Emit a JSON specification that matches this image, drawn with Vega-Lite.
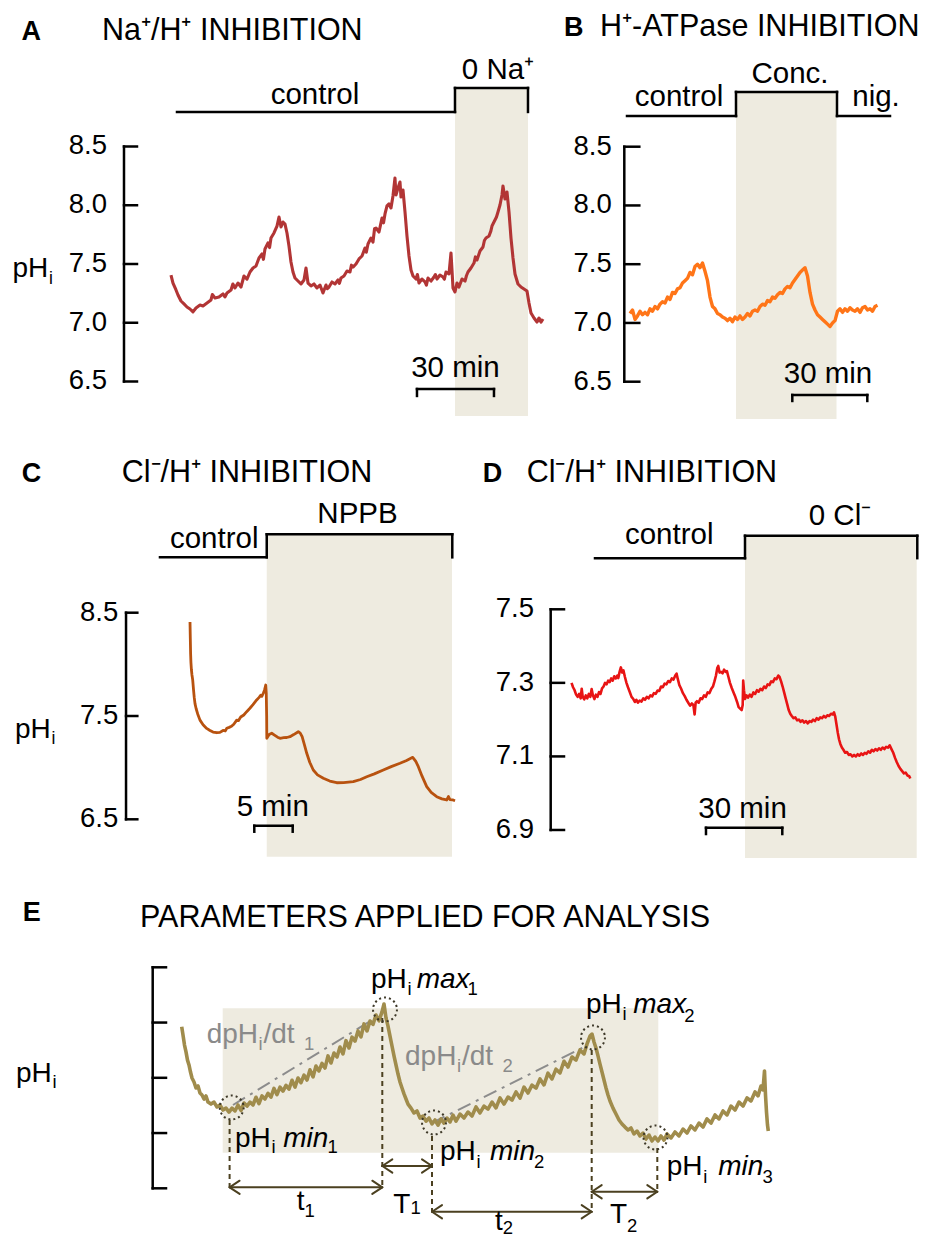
{
"$schema": "https://vega.github.io/schema/vega-lite/v6.json",
"width": 927, "height": 1240,
"autosize": "none",
"padding": 0,
"background": "white",
"config": {"view": {"stroke": null}, "font": "Liberation Sans"},
"resolve": {"scale": {"x": "independent", "y": "independent"}},
"layer": [
{
"encoding": {
 "x": {"field": "t", "type": "quantitative", "scale": {"domain": [-66.23, 294.94], "nice": false, "zero": false}, "axis": null},
 "y": {"field": "pH", "type": "quantitative", "scale": {"domain": [-0.8064, 9.7468], "nice": false, "zero": false}, "axis": null}
},
"layer": [
 {"data": {"values": [{"t": 111.04, "t2": 139.48, "pH": 6.206, "pH2": 8.998}]}, "mark": {"type": "rect", "color": "#eeebe0"}, "encoding": {"x2": {"field": "t2"}, "y2": {"field": "pH2"}}},
 {"data": {"values": [
{"t":0.39,"pH":7.406},{"t":1.17,"pH":7.338},{"t":2.34,"pH":7.279},{"t":3.12,"pH":7.236},{"t":4.29,"pH":7.185},{"t":5.45,"pH":7.16},{"t":6.62,"pH":7.134},{"t":7.79,"pH":7.117},{"t":8.96,"pH":7.092},{"t":10.13,"pH":7.126},{"t":11.69,"pH":7.151},{"t":12.86,"pH":7.143},{"t":14.42,"pH":7.168},{"t":15.97,"pH":7.194},{"t":16.5,"pH":7.24},{"t":17.53,"pH":7.211},{"t":19.09,"pH":7.219},{"t":20.65,"pH":7.245},{"t":21.4,"pH":7.22},{"t":22.21,"pH":7.253},{"t":23.77,"pH":7.279},{"t":24.5,"pH":7.33},{"t":25.32,"pH":7.296},{"t":26.49,"pH":7.338},{"t":27.66,"pH":7.304},{"t":28.83,"pH":7.398},{"t":30.0,"pH":7.372},{"t":31.17,"pH":7.432},{"t":32.34,"pH":7.466},{"t":33.51,"pH":7.483},{"t":34.68,"pH":7.551},{"t":35.84,"pH":7.585},{"t":36.4,"pH":7.54},{"t":37.01,"pH":7.628},{"t":38.18,"pH":7.679},{"t":38.8,"pH":7.64},{"t":39.35,"pH":7.721},{"t":40.52,"pH":7.764},{"t":41.69,"pH":7.823},{"t":42.47,"pH":7.9},{"t":43.25,"pH":7.815},{"t":44.03,"pH":7.857},{"t":44.81,"pH":7.84},{"t":45.58,"pH":7.764},{"t":46.36,"pH":7.653},{"t":47.14,"pH":7.517},{"t":47.92,"pH":7.432},{"t":48.7,"pH":7.381},{"t":49.87,"pH":7.355},{"t":51.04,"pH":7.33},{"t":52.21,"pH":7.364},{"t":52.99,"pH":7.466},{"t":53.77,"pH":7.338},{"t":54.94,"pH":7.313},{"t":56.1,"pH":7.33},{"t":57.27,"pH":7.296},{"t":58.44,"pH":7.321},{"t":59.61,"pH":7.253},{"t":60.78,"pH":7.321},{"t":61.3,"pH":7.29},{"t":61.95,"pH":7.304},{"t":63.12,"pH":7.347},{"t":64.29,"pH":7.33},{"t":65.45,"pH":7.364},{"t":66.0,"pH":7.335},{"t":66.62,"pH":7.381},{"t":67.79,"pH":7.398},{"t":68.96,"pH":7.44},{"t":70.13,"pH":7.432},{"t":70.7,"pH":7.49},{"t":71.3,"pH":7.474},{"t":72.47,"pH":7.5},{"t":73.64,"pH":7.543},{"t":74.81,"pH":7.568},{"t":75.97,"pH":7.636},{"t":76.5,"pH":7.6},{"t":77.14,"pH":7.67},{"t":78.31,"pH":7.721},{"t":79.09,"pH":7.687},{"t":79.7,"pH":7.8},{"t":80.26,"pH":7.806},{"t":81.43,"pH":7.772},{"t":82.6,"pH":7.891},{"t":83.2,"pH":7.85},{"t":83.77,"pH":7.926},{"t":84.55,"pH":7.994},{"t":85.32,"pH":8.011},{"t":86.1,"pH":7.977},{"t":86.88,"pH":8.079},{"t":87.66,"pH":8.232},{"t":88.05,"pH":8.087},{"t":88.83,"pH":8.147},{"t":89.61,"pH":8.198},{"t":90.0,"pH":8.07},{"t":90.78,"pH":8.13},{"t":91.56,"pH":7.943},{"t":92.34,"pH":7.738},{"t":93.12,"pH":7.568},{"t":93.9,"pH":7.449},{"t":94.68,"pH":7.398},{"t":95.84,"pH":7.372},{"t":96.4,"pH":7.41},{"t":97.01,"pH":7.338},{"t":98.18,"pH":7.372},{"t":99.35,"pH":7.347},{"t":99.9,"pH":7.32},{"t":100.52,"pH":7.381},{"t":101.69,"pH":7.355},{"t":102.86,"pH":7.389},{"t":103.4,"pH":7.41},{"t":104.03,"pH":7.372},{"t":105.19,"pH":7.406},{"t":106.36,"pH":7.389},{"t":106.9,"pH":7.37},{"t":107.53,"pH":7.432},{"t":108.7,"pH":7.415},{"t":109.48,"pH":7.594},{"t":109.87,"pH":7.449},{"t":110.26,"pH":7.296},{"t":111.04,"pH":7.262},{"t":111.82,"pH":7.338},{"t":112.6,"pH":7.304},{"t":113.77,"pH":7.372},{"t":114.94,"pH":7.355},{"t":115.5,"pH":7.4},{"t":116.1,"pH":7.432},{"t":117.27,"pH":7.466},{"t":118.44,"pH":7.508},{"t":119.0,"pH":7.56},{"t":119.61,"pH":7.534},{"t":120.78,"pH":7.611},{"t":121.95,"pH":7.645},{"t":122.5,"pH":7.7},{"t":123.12,"pH":7.721},{"t":124.29,"pH":7.738},{"t":125.0,"pH":7.78},{"t":125.45,"pH":7.823},{"t":126.62,"pH":7.874},{"t":127.2,"pH":7.9},{"t":127.79,"pH":7.943},{"t":128.57,"pH":8.002},{"t":129.35,"pH":8.087},{"t":129.74,"pH":8.164},{"t":130.52,"pH":8.053},{"t":131.3,"pH":8.113},{"t":132.08,"pH":7.943},{"t":132.86,"pH":7.721},{"t":133.64,"pH":7.551},{"t":134.42,"pH":7.415},{"t":135.58,"pH":7.33},{"t":136.75,"pH":7.304},{"t":137.92,"pH":7.287},{"t":139.09,"pH":7.27},{"t":139.87,"pH":7.168},{"t":140.65,"pH":7.083},{"t":141.82,"pH":7.04},{"t":142.99,"pH":7.006},{"t":143.77,"pH":7.04},{"t":144.55,"pH":7.006},{"t":145.33,"pH":7.032}
 ]}, "mark": {"type": "line", "color": "#b23535", "strokeWidth": 3.1, "strokeJoin": "round"}, "encoding": {}},
 {"data": {"values": [
{"t":2.73,"pH":8.794,"t2":111.04,"pH2":8.794},{"t":111.04,"pH":8.794,"t2":111.04,"pH2":8.998},{"t":111.04,"pH":8.998,"t2":139.48,"pH2":8.998},{"t":139.48,"pH":8.998,"t2":139.48,"pH2":8.794},
{"t":-17.92,"pH":6.5,"t2":-17.92,"pH2":8.5},
{"t":-17.92,"pH":6.5,"t2":-12.86,"pH2":6.5},{"t":-17.92,"pH":7.0,"t2":-12.86,"pH2":7.0},{"t":-17.92,"pH":7.5,"t2":-12.86,"pH2":7.5},{"t":-17.92,"pH":8.0,"t2":-12.86,"pH2":8.0},{"t":-17.92,"pH":8.5,"t2":-12.86,"pH2":8.5},
{"t":96.23,"pH":6.436,"t2":126.23,"pH2":6.436},{"t":96.23,"pH":6.436,"t2":96.23,"pH2":6.377},{"t":126.23,"pH":6.436,"t2":126.23,"pH2":6.377}
 ]}, "mark": {"type": "rule", "color": "#000000", "strokeWidth": 2.5, "strokeCap": "square"}, "encoding": {"x2": {"field": "t2"}, "y2": {"field": "pH2"}}},
 {"data": {"values": [{"t": -57.86, "pH": 9.406, "label": "A"}]}, "mark": {"type": "text", "fontSize": 27, "fontWeight": "bold", "align": "left", "baseline": "alphabetic", "color": "#000000"}, "encoding": {"text": {"field": "label"}}},
 {"data": {"values": [{"t": -26.49, "pH": 9.406, "label": "Na⁺/H⁺ INHIBITION"}]}, "mark": {"type": "text", "fontSize": 30.5, "align": "left", "baseline": "alphabetic", "color": "#000000"}, "encoding": {"text": {"field": "label"}}},
 {"data": {"values": [{"t": 56.49, "pH": 8.862, "label": "control"}, {"t": 127.79, "pH": 9.074, "label": "0 Na⁺"}, {"t": 111.23, "pH": 6.538, "label": "30 min"}]}, "mark": {"type": "text", "fontSize": 29.5, "align": "center", "baseline": "alphabetic", "color": "#000000"}, "encoding": {"text": {"field": "label"}}},
 {"data": {"values": [{"t": -24.55, "pH": 6.5, "label": "6.5"}, {"t": -24.55, "pH": 7.0, "label": "7.0"}, {"t": -24.55, "pH": 7.5, "label": "7.5"}, {"t": -24.55, "pH": 8.0, "label": "8.0"}, {"t": -24.55, "pH": 8.5, "label": "8.5"}]}, "mark": {"type": "text", "fontSize": 27.5, "align": "right", "baseline": "middle", "color": "#000000"}, "encoding": {"text": {"field": "label"}}},
 {"data": {"values": [{"t": -61.36, "pH": 7.389, "label": "pH"}]}, "mark": {"type": "text", "fontSize": 28, "align": "left", "baseline": "alphabetic", "color": "#000000"}, "encoding": {"text": {"field": "label"}}},
 {"data": {"values": [{"t": -47.14, "pH": 7.33, "label": "i"}]}, "mark": {"type": "text", "fontSize": 17.5, "align": "left", "baseline": "alphabetic", "color": "#000000"}, "encoding": {"text": {"field": "label"}}}
]
},
{
"encoding": {
 "x": {"field": "t", "type": "quantitative", "scale": {"domain": [-252, 118.8], "nice": false, "zero": false}, "axis": null},
 "y": {"field": "pH", "type": "quantitative", "scale": {"domain": [-0.8047, 9.7485], "nice": false, "zero": false}, "axis": null}
},
"layer": [
 {"data": {"values": [{"t": 42.4, "t2": 82.6, "pH": 6.183, "pH2": 8.966}]}, "mark": {"type": "rect", "color": "#eeebe0"}, "encoding": {"x2": {"field": "t2"}, "y2": {"field": "pH2"}}},
 {"data": {"values": [
{"t":0,"pH":7.08},{"t":1,"pH":7.11},{"t":2,"pH":7.03},{"t":3,"pH":7.06},{"t":4,"pH":7.1},{"t":5,"pH":7.07},{"t":6,"pH":7.09},{"t":7,"pH":7.07},{"t":8,"pH":7.12},{"t":9,"pH":7.1},{"t":10,"pH":7.14},{"t":11,"pH":7.12},{"t":12,"pH":7.16},{"t":13,"pH":7.18},{"t":14,"pH":7.17},{"t":15,"pH":7.22},{"t":16,"pH":7.2},{"t":17,"pH":7.26},{"t":18,"pH":7.25},{"t":19,"pH":7.29},{"t":20,"pH":7.3},{"t":21,"pH":7.34},{"t":22,"pH":7.36},{"t":23,"pH":7.38},{"t":24,"pH":7.43},{"t":25,"pH":7.41},{"t":26,"pH":7.48},{"t":27,"pH":7.5},{"t":28,"pH":7.47},{"t":29,"pH":7.51},{"t":30,"pH":7.44},{"t":31,"pH":7.36},{"t":32,"pH":7.22},{"t":33,"pH":7.14},{"t":34,"pH":7.12},{"t":35,"pH":7.08},{"t":36,"pH":7.07},{"t":37,"pH":7.05},{"t":38,"pH":7.04},{"t":39,"pH":7.02},{"t":40,"pH":7.04},{"t":41,"pH":7.01},{"t":42,"pH":7.05},{"t":43,"pH":7.03},{"t":44,"pH":7.06},{"t":45,"pH":7.03},{"t":46,"pH":7.05},{"t":47,"pH":7.08},{"t":48,"pH":7.06},{"t":49,"pH":7.1},{"t":50,"pH":7.11},{"t":51,"pH":7.1},{"t":52,"pH":7.14},{"t":53,"pH":7.16},{"t":54,"pH":7.15},{"t":55,"pH":7.19},{"t":56,"pH":7.18},{"t":57,"pH":7.22},{"t":58,"pH":7.21},{"t":59,"pH":7.24},{"t":60,"pH":7.26},{"t":61,"pH":7.25},{"t":62,"pH":7.29},{"t":63,"pH":7.31},{"t":64,"pH":7.3},{"t":65,"pH":7.34},{"t":66,"pH":7.37},{"t":67,"pH":7.4},{"t":68,"pH":7.43},{"t":69,"pH":7.45},{"t":70,"pH":7.47},{"t":71,"pH":7.4},{"t":72,"pH":7.26},{"t":73,"pH":7.16},{"t":74,"pH":7.11},{"t":75,"pH":7.07},{"t":76,"pH":7.05},{"t":77,"pH":7.03},{"t":78,"pH":7.01},{"t":79,"pH":6.99},{"t":80,"pH":6.97},{"t":81,"pH":7.0},{"t":82,"pH":7.02},{"t":83,"pH":7.1},{"t":84,"pH":7.12},{"t":85,"pH":7.09},{"t":86,"pH":7.12},{"t":87,"pH":7.1},{"t":88,"pH":7.13},{"t":89,"pH":7.11},{"t":90,"pH":7.1},{"t":91,"pH":7.12},{"t":92,"pH":7.09},{"t":93,"pH":7.13},{"t":94,"pH":7.14},{"t":95,"pH":7.11},{"t":96,"pH":7.12},{"t":97,"pH":7.1},{"t":98,"pH":7.14},{"t":99,"pH":7.15}
 ]}, "mark": {"type": "line", "color": "#ff7518", "strokeWidth": 3.4, "strokeJoin": "round"}, "encoding": {}},
 {"data": {"values": [
{"t":-1.2,"pH":8.761,"t2":42.4,"pH2":8.761},{"t":42.4,"pH":8.761,"t2":42.4,"pH2":8.966},{"t":42.4,"pH":8.966,"t2":82.8,"pH2":8.966},{"t":82.8,"pH":8.966,"t2":82.8,"pH2":8.761},{"t":82.8,"pH":8.761,"t2":104.0,"pH2":8.761},
{"t":-2.28,"pH":6.5,"t2":-2.28,"pH2":8.5},
{"t":-2.28,"pH":6.5,"t2":3.72,"pH2":6.5},{"t":-2.28,"pH":7.0,"t2":3.72,"pH2":7.0},{"t":-2.28,"pH":7.5,"t2":3.72,"pH2":7.5},{"t":-2.28,"pH":8.0,"t2":3.72,"pH2":8.0},{"t":-2.28,"pH":8.5,"t2":3.72,"pH2":8.5},
{"t":64.92,"pH":6.387,"t2":94.92,"pH2":6.387},{"t":64.92,"pH":6.387,"t2":64.92,"pH2":6.336},{"t":94.92,"pH":6.387,"t2":94.92,"pH2":6.336}
 ]}, "mark": {"type": "rule", "color": "#000000", "strokeWidth": 2.5, "strokeCap": "square"}, "encoding": {"x2": {"field": "t2"}, "y2": {"field": "pH2"}}},
 {"data": {"values": [{"t": -26.4, "pH": 9.442, "label": "B"}]}, "mark": {"type": "text", "fontSize": 27, "fontWeight": "bold", "align": "left", "baseline": "alphabetic", "color": "#000000"}, "encoding": {"text": {"field": "label"}}},
 {"data": {"values": [{"t": -12.0, "pH": 9.442, "label": "H⁺-ATPase INHIBITION"}]}, "mark": {"type": "text", "fontSize": 30.5, "align": "left", "baseline": "alphabetic", "color": "#000000"}, "encoding": {"text": {"field": "label"}}},
 {"data": {"values": [{"t": 19.6, "pH": 8.846, "label": "control"}, {"t": 64.0, "pH": 9.038, "label": "Conc."}, {"t": 98.4, "pH": 8.846, "label": "nig."}, {"t": 79.2, "pH": 6.486, "label": "30 min"}]}, "mark": {"type": "text", "fontSize": 29.5, "align": "center", "baseline": "alphabetic", "color": "#000000"}, "encoding": {"text": {"field": "label"}}},
 {"data": {"values": [{"t": -7.32, "pH": 6.5, "label": "6.5"}, {"t": -7.32, "pH": 7.0, "label": "7.0"}, {"t": -7.32, "pH": 7.5, "label": "7.5"}, {"t": -7.32, "pH": 8.0, "label": "8.0"}, {"t": -7.32, "pH": 8.5, "label": "8.5"}]}, "mark": {"type": "text", "fontSize": 27.5, "align": "right", "baseline": "middle", "color": "#000000"}, "encoding": {"text": {"field": "label"}}}
]
},
{
"encoding": {
 "x": {"field": "t", "type": "quantitative", "scale": {"domain": [-24.74, 95.96], "nice": false, "zero": false}, "axis": null},
 "y": {"field": "pH", "type": "quantitative", "scale": {"domain": [2.4274, 14.4313], "nice": false, "zero": false}, "axis": null}
},
"layer": [
 {"data": {"values": [{"t": 9.99, "t2": 34.11, "pH": 6.138, "pH2": 9.259}]}, "mark": {"type": "rect", "color": "#eeebe0"}, "encoding": {"x2": {"field": "t2"}, "y2": {"field": "pH2"}}},
 {"data": {"values": [
{"t":0,"pH":8.41},{"t":0.04,"pH":8.25},{"t":0.08,"pH":8.1},{"t":0.12,"pH":8.02},{"t":0.18,"pH":7.95},{"t":0.25,"pH":7.9},{"t":0.35,"pH":7.85},{"t":0.45,"pH":7.76},{"t":0.55,"pH":7.68},{"t":0.65,"pH":7.62},{"t":0.8,"pH":7.57},{"t":1.0,"pH":7.52},{"t":1.3,"pH":7.46},{"t":1.7,"pH":7.415},{"t":2.17,"pH":7.38},{"t":2.6,"pH":7.36},{"t":3.0,"pH":7.345},{"t":3.48,"pH":7.338},{"t":3.9,"pH":7.342},{"t":4.3,"pH":7.36},{"t":4.6,"pH":7.355},{"t":4.78,"pH":7.381},{"t":5.1,"pH":7.39},{"t":5.4,"pH":7.4},{"t":5.7,"pH":7.42},{"t":6.08,"pH":7.46},{"t":6.3,"pH":7.455},{"t":6.6,"pH":7.49},{"t":7.0,"pH":7.51},{"t":7.38,"pH":7.542},{"t":7.8,"pH":7.575},{"t":8.2,"pH":7.61},{"t":8.68,"pH":7.655},{"t":9.0,"pH":7.68},{"t":9.2,"pH":7.7},{"t":9.35,"pH":7.69},{"t":9.54,"pH":7.72},{"t":9.7,"pH":7.75},{"t":9.86,"pH":7.8},{"t":9.93,"pH":7.72},{"t":9.98,"pH":7.5},{"t":10.0,"pH":7.284},{"t":10.3,"pH":7.32},{"t":10.64,"pH":7.333},{"t":11.0,"pH":7.315},{"t":11.4,"pH":7.295},{"t":11.72,"pH":7.284},{"t":12.2,"pH":7.29},{"t":12.6,"pH":7.292},{"t":13.02,"pH":7.3},{"t":13.5,"pH":7.32},{"t":14.1,"pH":7.348},{"t":14.35,"pH":7.335},{"t":14.6,"pH":7.3},{"t":14.9,"pH":7.22},{"t":15.2,"pH":7.139},{"t":15.6,"pH":7.05},{"t":16.05,"pH":6.977},{"t":16.6,"pH":6.93},{"t":17.36,"pH":6.897},{"t":18.2,"pH":6.87},{"t":19.1,"pH":6.854},{"t":20.0,"pH":6.855},{"t":21.26,"pH":6.864},{"t":22.2,"pH":6.885},{"t":23.01,"pH":6.912},{"t":24.0,"pH":6.94},{"t":25.17,"pH":6.977},{"t":26.2,"pH":7.01},{"t":27.34,"pH":7.042},{"t":28.2,"pH":7.07},{"t":29.0,"pH":7.1},{"t":29.4,"pH":7.06},{"t":29.73,"pH":7.009},{"t":30.2,"pH":6.92},{"t":30.82,"pH":6.816},{"t":31.4,"pH":6.76},{"t":32.12,"pH":6.719},{"t":32.8,"pH":6.698},{"t":33.42,"pH":6.687},{"t":33.65,"pH":6.72},{"t":33.85,"pH":6.69},{"t":34.2,"pH":6.688},{"t":34.51,"pH":6.68}
 ]}, "mark": {"type": "line", "color": "#b8520f", "strokeWidth": 2.8, "strokeJoin": "round"}, "encoding": {}},
 {"data": {"values": [
{"t":-3.91,"pH":9.036,"t2":9.99,"pH2":9.036},{"t":9.99,"pH":9.036,"t2":9.99,"pH2":9.259},{"t":9.99,"pH":9.259,"t2":34.15,"pH2":9.259},{"t":34.15,"pH":9.259,"t2":34.15,"pH2":9.036},
{"t":-8.33,"pH":6.5,"t2":-8.33,"pH2":8.5},
{"t":-8.33,"pH":6.5,"t2":-6.86,"pH2":6.5},{"t":-8.33,"pH":7.5,"t2":-6.86,"pH2":7.5},{"t":-8.33,"pH":8.5,"t2":-6.86,"pH2":8.5},
{"t":8.37,"pH":6.438,"t2":13.37,"pH2":6.438},{"t":8.37,"pH":6.438,"t2":8.37,"pH2":6.38},{"t":13.37,"pH":6.438,"t2":13.37,"pH2":6.38}
 ]}, "mark": {"type": "rule", "color": "#000000", "strokeWidth": 2.5, "strokeCap": "square"}, "encoding": {"x2": {"field": "t2"}, "y2": {"field": "pH2"}}},
 {"data": {"values": [{"t": -21.91, "pH": 9.768, "label": "C"}]}, "mark": {"type": "text", "fontSize": 27, "fontWeight": "bold", "align": "left", "baseline": "alphabetic", "color": "#000000"}, "encoding": {"text": {"field": "label"}}},
 {"data": {"values": [{"t": -8.89, "pH": 9.768, "label": "Cl⁻/H⁺ INHIBITION"}]}, "mark": {"type": "text", "fontSize": 30.5, "align": "left", "baseline": "alphabetic", "color": "#000000"}, "encoding": {"text": {"field": "label"}}},
 {"data": {"values": [{"t": 3.15, "pH": 9.123, "label": "control"}, {"t": 21.81, "pH": 9.365, "label": "NPPB"}, {"t": 10.77, "pH": 6.532, "label": "5 min"}]}, "mark": {"type": "text", "fontSize": 29.5, "align": "center", "baseline": "alphabetic", "color": "#000000"}, "encoding": {"text": {"field": "label"}}},
 {"data": {"values": [{"t": -9.34, "pH": 6.5, "label": "6.5"}, {"t": -9.34, "pH": 7.5, "label": "7.5"}, {"t": -9.34, "pH": 8.5, "label": "8.5"}]}, "mark": {"type": "text", "fontSize": 27.5, "align": "right", "baseline": "middle", "color": "#000000"}, "encoding": {"text": {"field": "label"}}},
 {"data": {"values": [{"t": -22.79, "pH": 7.29, "label": "pH"}]}, "mark": {"type": "text", "fontSize": 28, "align": "left", "baseline": "alphabetic", "color": "#000000"}, "encoding": {"text": {"field": "label"}}},
 {"data": {"values": [{"t": -18.03, "pH": 7.229, "label": "i"}]}, "mark": {"type": "text", "fontSize": 17.5, "align": "left", "baseline": "alphabetic", "color": "#000000"}, "encoding": {"text": {"field": "label"}}}
]
},
{
"encoding": {
 "x": {"field": "t", "type": "quantitative", "scale": {"domain": [-224.12, 140.37], "nice": false, "zero": false}, "axis": null},
 "y": {"field": "pH", "type": "quantitative", "scale": {"domain": [5.7852, 9.1566], "nice": false, "zero": false}, "axis": null}
},
"layer": [
 {"data": {"values": [{"t": 68.81, "t2": 136.32, "pH": 6.824, "pH2": 7.7}]}, "mark": {"type": "rect", "color": "#eeebe0"}, "encoding": {"x2": {"field": "t2"}, "y2": {"field": "pH2"}}},
 {"data": {"values": [
{"t":0.6,"pH":7.3},{"t":1.2,"pH":7.288},{"t":1.8,"pH":7.28},{"t":2.4,"pH":7.268},{"t":3.0,"pH":7.262},{"t":3.6,"pH":7.27},{"t":4.2,"pH":7.258},{"t":4.6,"pH":7.284},{"t":5.0,"pH":7.262},{"t":5.6,"pH":7.255},{"t":6.2,"pH":7.266},{"t":6.8,"pH":7.258},{"t":7.4,"pH":7.27},{"t":8.0,"pH":7.262},{"t":8.5,"pH":7.283},{"t":9.0,"pH":7.266},{"t":9.6,"pH":7.256},{"t":10.2,"pH":7.268},{"t":10.8,"pH":7.262},{"t":11.4,"pH":7.275},{"t":12.0,"pH":7.27},{"t":12.6,"pH":7.285},{"t":13.2,"pH":7.29},{"t":13.8,"pH":7.3},{"t":14.4,"pH":7.296},{"t":15.0,"pH":7.306},{"t":15.6,"pH":7.302},{"t":16.2,"pH":7.312},{"t":16.8,"pH":7.306},{"t":17.4,"pH":7.318},{"t":18.0,"pH":7.312},{"t":18.6,"pH":7.32},{"t":19.0,"pH":7.313},{"t":19.5,"pH":7.33},{"t":20.0,"pH":7.342},{"t":20.5,"pH":7.328},{"t":21.0,"pH":7.334},{"t":21.6,"pH":7.316},{"t":22.2,"pH":7.3},{"t":22.8,"pH":7.288},{"t":23.5,"pH":7.275},{"t":24.2,"pH":7.262},{"t":24.9,"pH":7.256},{"t":25.5,"pH":7.248},{"t":26.1,"pH":7.254},{"t":26.7,"pH":7.246},{"t":27.4,"pH":7.252},{"t":28.1,"pH":7.249},{"t":28.8,"pH":7.258},{"t":29.5,"pH":7.254},{"t":30.2,"pH":7.262},{"t":30.9,"pH":7.258},{"t":31.6,"pH":7.266},{"t":32.3,"pH":7.263},{"t":33.0,"pH":7.272},{"t":33.7,"pH":7.27},{"t":34.4,"pH":7.279},{"t":35.1,"pH":7.278},{"t":35.8,"pH":7.29},{"t":36.5,"pH":7.288},{"t":37.2,"pH":7.298},{"t":37.9,"pH":7.296},{"t":38.6,"pH":7.305},{"t":39.3,"pH":7.302},{"t":40.0,"pH":7.312},{"t":40.7,"pH":7.309},{"t":41.4,"pH":7.32},{"t":41.9,"pH":7.325},{"t":42.4,"pH":7.31},{"t":43.0,"pH":7.294},{"t":43.7,"pH":7.284},{"t":44.4,"pH":7.272},{"t":45.1,"pH":7.264},{"t":45.8,"pH":7.254},{"t":46.5,"pH":7.246},{"t":47.2,"pH":7.238},{"t":47.9,"pH":7.244},{"t":48.5,"pH":7.24},{"t":49.0,"pH":7.214},{"t":49.4,"pH":7.246},{"t":49.9,"pH":7.25},{"t":50.6,"pH":7.246},{"t":51.3,"pH":7.258},{"t":52.0,"pH":7.256},{"t":52.7,"pH":7.266},{"t":53.4,"pH":7.262},{"t":54.1,"pH":7.274},{"t":54.8,"pH":7.272},{"t":55.5,"pH":7.283},{"t":56.2,"pH":7.29},{"t":56.8,"pH":7.304},{"t":57.4,"pH":7.32},{"t":57.9,"pH":7.34},{"t":58.3,"pH":7.346},{"t":58.8,"pH":7.328},{"t":59.4,"pH":7.33},{"t":60.0,"pH":7.326},{"t":60.6,"pH":7.336},{"t":61.2,"pH":7.33},{"t":61.7,"pH":7.332},{"t":62.3,"pH":7.316},{"t":62.9,"pH":7.3},{"t":63.6,"pH":7.286},{"t":64.3,"pH":7.274},{"t":65.0,"pH":7.262},{"t":65.7,"pH":7.248},{"t":66.3,"pH":7.234},{"t":66.9,"pH":7.23},{"t":67.5,"pH":7.226},{"t":67.9,"pH":7.24},{"t":68.1,"pH":7.306},{"t":68.4,"pH":7.28},{"t":68.8,"pH":7.256},{"t":69.4,"pH":7.266},{"t":70.0,"pH":7.26},{"t":70.7,"pH":7.268},{"t":71.4,"pH":7.262},{"t":72.1,"pH":7.274},{"t":72.8,"pH":7.27},{"t":73.5,"pH":7.28},{"t":74.2,"pH":7.276},{"t":74.9,"pH":7.284},{"t":75.6,"pH":7.28},{"t":76.3,"pH":7.29},{"t":77.0,"pH":7.286},{"t":77.7,"pH":7.296},{"t":78.4,"pH":7.294},{"t":79.1,"pH":7.304},{"t":79.8,"pH":7.302},{"t":80.5,"pH":7.312},{"t":81.2,"pH":7.31},{"t":81.9,"pH":7.32},{"t":82.4,"pH":7.316},{"t":83.0,"pH":7.304},{"t":83.6,"pH":7.29},{"t":84.2,"pH":7.274},{"t":84.8,"pH":7.258},{"t":85.4,"pH":7.242},{"t":86.0,"pH":7.226},{"t":86.6,"pH":7.216},{"t":87.2,"pH":7.21},{"t":87.9,"pH":7.204},{"t":88.6,"pH":7.206},{"t":89.3,"pH":7.198},{"t":90.0,"pH":7.2},{"t":90.7,"pH":7.194},{"t":91.4,"pH":7.198},{"t":92.1,"pH":7.192},{"t":92.8,"pH":7.196},{"t":93.5,"pH":7.19},{"t":94.2,"pH":7.196},{"t":94.9,"pH":7.194},{"t":95.6,"pH":7.2},{"t":96.3,"pH":7.196},{"t":97.0,"pH":7.204},{"t":97.7,"pH":7.2},{"t":98.4,"pH":7.206},{"t":99.1,"pH":7.204},{"t":99.8,"pH":7.21},{"t":100.5,"pH":7.206},{"t":101.2,"pH":7.212},{"t":101.9,"pH":7.21},{"t":102.6,"pH":7.216},{"t":103.3,"pH":7.214},{"t":103.8,"pH":7.22},{"t":104.3,"pH":7.208},{"t":104.8,"pH":7.186},{"t":105.3,"pH":7.164},{"t":105.8,"pH":7.146},{"t":106.3,"pH":7.134},{"t":106.9,"pH":7.124},{"t":107.5,"pH":7.118},{"t":108.2,"pH":7.11},{"t":108.9,"pH":7.112},{"t":109.6,"pH":7.104},{"t":110.3,"pH":7.106},{"t":111.0,"pH":7.1},{"t":111.7,"pH":7.104},{"t":112.4,"pH":7.1},{"t":113.1,"pH":7.106},{"t":113.8,"pH":7.102},{"t":114.5,"pH":7.108},{"t":115.2,"pH":7.104},{"t":115.9,"pH":7.11},{"t":116.6,"pH":7.107},{"t":117.3,"pH":7.114},{"t":118.0,"pH":7.11},{"t":118.7,"pH":7.118},{"t":119.4,"pH":7.114},{"t":120.1,"pH":7.12},{"t":120.8,"pH":7.116},{"t":121.5,"pH":7.122},{"t":122.2,"pH":7.118},{"t":122.9,"pH":7.124},{"t":123.6,"pH":7.12},{"t":124.3,"pH":7.126},{"t":125.0,"pH":7.124},{"t":125.7,"pH":7.13},{"t":126.4,"pH":7.12},{"t":127.1,"pH":7.11},{"t":127.8,"pH":7.096},{"t":128.5,"pH":7.084},{"t":129.2,"pH":7.074},{"t":129.9,"pH":7.066},{"t":130.6,"pH":7.06},{"t":131.3,"pH":7.054},{"t":132.0,"pH":7.056},{"t":132.7,"pH":7.048},{"t":133.4,"pH":7.046},{"t":133.8,"pH":7.04}
 ]}, "mark": {"type": "line", "color": "#e81414", "strokeWidth": 2.6, "strokeJoin": "round"}, "encoding": {}},
 {"data": {"values": [
{"t":9.83,"pH":7.639,"t2":68.81,"pH2":7.639},{"t":68.81,"pH":7.639,"t2":68.81,"pH2":7.7},{"t":68.81,"pH":7.7,"t2":136.55,"pH2":7.7},{"t":136.55,"pH":7.7,"t2":136.55,"pH2":7.639},
{"t":-7.59,"pH":6.9,"t2":-7.59,"pH2":7.5},
{"t":-7.59,"pH":6.9,"t2":-2.36,"pH2":6.9},{"t":-7.59,"pH":7.1,"t2":-2.36,"pH2":7.1},{"t":-7.59,"pH":7.3,"t2":-2.36,"pH2":7.3},{"t":-7.59,"pH":7.5,"t2":-2.36,"pH2":7.5},
{"t":53.47,"pH":6.906,"t2":83.47,"pH2":6.906},{"t":53.47,"pH":6.906,"t2":53.47,"pH2":6.889},{"t":83.47,"pH":6.906,"t2":83.47,"pH2":6.889}
 ]}, "mark": {"type": "rule", "color": "#000000", "strokeWidth": 2.5, "strokeCap": "square"}, "encoding": {"x2": {"field": "t2"}, "y2": {"field": "pH2"}}},
 {"data": {"values": [{"t": -34.33, "pH": 7.847, "label": "D"}]}, "mark": {"type": "text", "fontSize": 27, "fontWeight": "bold", "align": "left", "baseline": "alphabetic", "color": "#000000"}, "encoding": {"text": {"field": "label"}}},
 {"data": {"values": [{"t": -17.03, "pH": 7.847, "label": "Cl⁻/H⁺ INHIBITION"}]}, "mark": {"type": "text", "fontSize": 30.5, "align": "left", "baseline": "alphabetic", "color": "#000000"}, "encoding": {"text": {"field": "label"}}},
 {"data": {"values": [{"t": 39.0, "pH": 7.678, "label": "control"}, {"t": 106.16, "pH": 7.729, "label": "0 Cl⁻"}, {"t": 67.83, "pH": 6.932, "label": "30 min"}]}, "mark": {"type": "text", "fontSize": 29.5, "align": "center", "baseline": "alphabetic", "color": "#000000"}, "encoding": {"text": {"field": "label"}}},
 {"data": {"values": [{"t": -14.15, "pH": 6.9, "label": "6.9"}, {"t": -14.15, "pH": 7.1, "label": "7.1"}, {"t": -14.15, "pH": 7.3, "label": "7.3"}, {"t": -14.15, "pH": 7.5, "label": "7.5"}]}, "mark": {"type": "text", "fontSize": 27.5, "align": "right", "baseline": "middle", "color": "#000000"}, "encoding": {"text": {"field": "label"}}}
]
},
{
"encoding": {
 "x": {"field": "t", "type": "quantitative", "scale": {"domain": [-90, 373.5], "nice": false, "zero": false}, "axis": null},
 "y": {"field": "pH", "type": "quantitative", "scale": {"domain": [6.7661, 12.3769], "nice": false, "zero": false}, "axis": null}
},
"layer": [
 {"data": {"values": [{"t": 21.35, "t2": 239.15, "pH": 7.1611, "pH2": 7.8145}]}, "mark": {"type": "rect", "color": "#eeebe0"}, "encoding": {"x2": {"field": "t2"}, "y2": {"field": "pH2"}}},
 {"data": {"values": [
{"t":26.5,"pH":7.3769,"t2":101,"pH2":7.7887},{"t":126,"pH":7.2955,"t2":204,"pH2":7.6484}
 ]}, "mark": {"type": "rule", "color": "#8c8c8c", "strokeWidth": 2, "strokeDash": [14, 6, 3, 6]}, "encoding": {"x2": {"field": "t2"}, "y2": {"field": "pH2"}}},
 {"data": {"values": [
{"t":0.85,"pH":7.731},{"t":1.5,"pH":7.694},{"t":2.25,"pH":7.648},{"t":3.0,"pH":7.617},{"t":3.75,"pH":7.58},{"t":4.5,"pH":7.558},{"t":5.25,"pH":7.526},{"t":6.0,"pH":7.499},{"t":7.0,"pH":7.481},{"t":8.0,"pH":7.454},{"t":9.0,"pH":7.463},{"t":10.0,"pH":7.431},{"t":11.0,"pH":7.422},{"t":12.0,"pH":7.404},{"t":13.0,"pH":7.418},{"t":14.0,"pH":7.39},{"t":15.5,"pH":7.381},{"t":17.0,"pH":7.39},{"t":18.5,"pH":7.368},{"t":20.0,"pH":7.377},{"t":21.5,"pH":7.354},{"t":23.0,"pH":7.363},{"t":24.5,"pH":7.345},{"t":26.0,"pH":7.363},{"t":27.5,"pH":7.35},{"t":29.0,"pH":7.377},{"t":30.5,"pH":7.352},{"t":32.0,"pH":7.386},{"t":33.5,"pH":7.372},{"t":35.0,"pH":7.39},{"t":36.5,"pH":7.377},{"t":38.0,"pH":7.412},{"t":39.5,"pH":7.383},{"t":41.0,"pH":7.418},{"t":42.5,"pH":7.404},{"t":44.0,"pH":7.43},{"t":45.5,"pH":7.413},{"t":47.0,"pH":7.452},{"t":48.5,"pH":7.424},{"t":50.0,"pH":7.458},{"t":51.5,"pH":7.44},{"t":53.0,"pH":7.466},{"t":54.5,"pH":7.449},{"t":56.0,"pH":7.489},{"t":57.5,"pH":7.458},{"t":59.0,"pH":7.499},{"t":60.5,"pH":7.478},{"t":62.0,"pH":7.512},{"t":63.5,"pH":7.49},{"t":65.0,"pH":7.536},{"t":66.5,"pH":7.504},{"t":68.0,"pH":7.553},{"t":69.5,"pH":7.531},{"t":71.0,"pH":7.565},{"t":72.5,"pH":7.544},{"t":74.0,"pH":7.599},{"t":75.5,"pH":7.567},{"t":77.0,"pH":7.612},{"t":78.5,"pH":7.594},{"t":80.0,"pH":7.639},{"t":81.5,"pH":7.608},{"t":83.0,"pH":7.668},{"t":84.5,"pH":7.635},{"t":86.0,"pH":7.684},{"t":87.5,"pH":7.666},{"t":89.0,"pH":7.712},{"t":90.5,"pH":7.685},{"t":92.0,"pH":7.744},{"t":93.5,"pH":7.712},{"t":95.0,"pH":7.757},{"t":96.5,"pH":7.742},{"t":98.0,"pH":7.784},{"t":99.5,"pH":7.758},{"t":101.0,"pH":7.798},{"t":102.0,"pH":7.834},{"t":103.0,"pH":7.771},{"t":104.0,"pH":7.734},{"t":105.0,"pH":7.689},{"t":106.0,"pH":7.644},{"t":107.0,"pH":7.599},{"t":108.0,"pH":7.558},{"t":109.0,"pH":7.517},{"t":110.0,"pH":7.481},{"t":111.0,"pH":7.454},{"t":112.0,"pH":7.427},{"t":113.0,"pH":7.404},{"t":114.0,"pH":7.381},{"t":115.5,"pH":7.363},{"t":117.0,"pH":7.341},{"t":118.5,"pH":7.35},{"t":120.0,"pH":7.318},{"t":121.5,"pH":7.327},{"t":123.0,"pH":7.304},{"t":124.5,"pH":7.318},{"t":126.0,"pH":7.291},{"t":127.5,"pH":7.309},{"t":129.0,"pH":7.286},{"t":130.5,"pH":7.314},{"t":132.0,"pH":7.295},{"t":133.5,"pH":7.318},{"t":135.0,"pH":7.3},{"t":136.5,"pH":7.331},{"t":138.0,"pH":7.304},{"t":140.0,"pH":7.336},{"t":142.0,"pH":7.318},{"t":144.0,"pH":7.345},{"t":146.0,"pH":7.327},{"t":148.0,"pH":7.368},{"t":150.0,"pH":7.341},{"t":152.0,"pH":7.372},{"t":154.0,"pH":7.358},{"t":156.0,"pH":7.39},{"t":158.0,"pH":7.364},{"t":160.0,"pH":7.409},{"t":162.0,"pH":7.381},{"t":164.0,"pH":7.413},{"t":166.0,"pH":7.399},{"t":168.0,"pH":7.436},{"t":170.0,"pH":7.408},{"t":172.0,"pH":7.458},{"t":174.0,"pH":7.431},{"t":176.0,"pH":7.467},{"t":178.0,"pH":7.453},{"t":180.0,"pH":7.495},{"t":182.0,"pH":7.468},{"t":184.0,"pH":7.521},{"t":186.0,"pH":7.495},{"t":188.0,"pH":7.539},{"t":190.0,"pH":7.522},{"t":192.0,"pH":7.575},{"t":194.0,"pH":7.549},{"t":196.0,"pH":7.594},{"t":198.0,"pH":7.58},{"t":200.0,"pH":7.626},{"t":202.0,"pH":7.608},{"t":203.5,"pH":7.653},{"t":205.0,"pH":7.689},{"t":206.0,"pH":7.698},{"t":207.0,"pH":7.662},{"t":208.0,"pH":7.635},{"t":209.0,"pH":7.599},{"t":210.0,"pH":7.562},{"t":211.0,"pH":7.526},{"t":212.0,"pH":7.49},{"t":213.0,"pH":7.454},{"t":214.0,"pH":7.422},{"t":215.0,"pH":7.395},{"t":216.5,"pH":7.363},{"t":218.0,"pH":7.336},{"t":219.5,"pH":7.309},{"t":221.0,"pH":7.291},{"t":222.5,"pH":7.277},{"t":224.0,"pH":7.264},{"t":225.5,"pH":7.273},{"t":227.0,"pH":7.246},{"t":228.5,"pH":7.259},{"t":230.0,"pH":7.237},{"t":231.5,"pH":7.25},{"t":233.0,"pH":7.223},{"t":234.5,"pH":7.241},{"t":236.0,"pH":7.214},{"t":237.5,"pH":7.232},{"t":239.0,"pH":7.214},{"t":240.5,"pH":7.237},{"t":242.0,"pH":7.218},{"t":243.5,"pH":7.246},{"t":245.5,"pH":7.228},{"t":247.5,"pH":7.255},{"t":249.5,"pH":7.237},{"t":251.5,"pH":7.268},{"t":253.5,"pH":7.25},{"t":255.5,"pH":7.282},{"t":257.5,"pH":7.264},{"t":259.5,"pH":7.295},{"t":261.5,"pH":7.277},{"t":263.5,"pH":7.314},{"t":265.5,"pH":7.295},{"t":267.5,"pH":7.332},{"t":269.5,"pH":7.314},{"t":271.5,"pH":7.35},{"t":273.5,"pH":7.332},{"t":275.5,"pH":7.372},{"t":277.5,"pH":7.354},{"t":279.5,"pH":7.39},{"t":281.5,"pH":7.372},{"t":283.5,"pH":7.409},{"t":285.5,"pH":7.395},{"t":287.5,"pH":7.436},{"t":289.0,"pH":7.418},{"t":290.5,"pH":7.463},{"t":291.5,"pH":7.445},{"t":292.25,"pH":7.531},{"t":292.75,"pH":7.422},{"t":293.25,"pH":7.345},{"t":293.75,"pH":7.286},{"t":294.15,"pH":7.259}
 ]}, "mark": {"type": "line", "color": "#a08c4c", "strokeWidth": 3.6, "strokeJoin": "round"}, "encoding": {}},
 {"data": {"values": [
{"t":24.8,"pH":7.309,"t2":24.8,"pH2":7.0045},{"t":101.15,"pH":7.771,"t2":101.15,"pH2":7.0045},{"t":126,"pH":7.237,"t2":126,"pH2":6.8941},{"t":205.85,"pH":7.626,"t2":205.85,"pH2":6.8941},{"t":238.65,"pH":7.1825,"t2":238.65,"pH2":6.9846}
 ]}, "mark": {"type": "rule", "color": "#4b4020", "strokeWidth": 2, "strokeDash": [5, 4]}, "encoding": {"x2": {"field": "t2"}, "y2": {"field": "pH2"}}},
 {"data": {"values": [
{"t":24.8,"pH":7.0045,"t2":101.15,"pH2":7.0045},{"t":24.8,"pH":7.0045,"t2":29.8,"pH2":7.0345},{"t":24.8,"pH":7.0045,"t2":29.8,"pH2":6.9745},{"t":101.15,"pH":7.0045,"t2":96.15,"pH2":7.0345},{"t":101.15,"pH":7.0045,"t2":96.15,"pH2":6.9745},
{"t":101.15,"pH":7.1009,"t2":126,"pH2":7.1009},{"t":101.15,"pH":7.1009,"t2":106.15,"pH2":7.1309},{"t":101.15,"pH":7.1009,"t2":106.15,"pH2":7.0709},{"t":126,"pH":7.1009,"t2":121,"pH2":7.1309},{"t":126,"pH":7.1009,"t2":121,"pH2":7.0709},
{"t":126,"pH":6.8941,"t2":205.85,"pH2":6.8941},{"t":126,"pH":6.8941,"t2":131,"pH2":6.9241},{"t":126,"pH":6.8941,"t2":131,"pH2":6.8641},{"t":205.85,"pH":6.8941,"t2":200.85,"pH2":6.9241},{"t":205.85,"pH":6.8941,"t2":200.85,"pH2":6.8641},
{"t":205.85,"pH":6.9846,"t2":238.65,"pH2":6.9846},{"t":205.85,"pH":6.9846,"t2":210.85,"pH2":7.0146},{"t":205.85,"pH":6.9846,"t2":210.85,"pH2":6.9546},{"t":238.65,"pH":6.9846,"t2":233.65,"pH2":7.0146},{"t":238.65,"pH":6.9846,"t2":233.65,"pH2":6.9546}
 ]}, "mark": {"type": "rule", "color": "#4b4020", "strokeWidth": 2, "strokeCap": "round"}, "encoding": {"x2": {"field": "t2"}, "y2": {"field": "pH2"}}},
 {"data": {"values": [
{"t":-13.65,"pH":7.0,"t2":-13.65,"pH2":8.0},
{"t":-13.65,"pH":7.0,"t2":-7.0,"pH2":7.0},{"t":-13.65,"pH":7.25,"t2":-7.0,"pH2":7.25},{"t":-13.65,"pH":7.5,"t2":-7.0,"pH2":7.5},{"t":-13.65,"pH":7.75,"t2":-7.0,"pH2":7.75},{"t":-13.65,"pH":8.0,"t2":-7.0,"pH2":8.0}
 ]}, "mark": {"type": "rule", "color": "#000000", "strokeWidth": 2.5, "strokeCap": "square"}, "encoding": {"x2": {"field": "t2"}, "y2": {"field": "pH2"}}},
 {"data": {"values": [
{"t":25.85,"pH":7.3656},{"t":102.5,"pH":7.8091},{"t":127,"pH":7.2977},{"t":206.5,"pH":7.6824},{"t":237.75,"pH":7.2299}
 ]}, "mark": {"type": "point", "shape": "circle", "filled": false, "size": 572, "color": "#3d3828", "strokeWidth": 2, "strokeDash": [2, 3], "opacity": 1}, "encoding": {}},
 {"data": {"values": [{"t": -78.65, "pH": 8.2109, "label": "E"}]}, "mark": {"type": "text", "fontSize": 27, "fontWeight": "bold", "align": "left", "baseline": "alphabetic", "color": "#000000"}, "encoding": {"text": {"field": "label"}}},
 {"data": {"values": [{"t": -20, "pH": 8.1837, "label": "PARAMETERS APPLIED FOR ANALYSIS"}]}, "mark": {"type": "text", "fontSize": 30.5, "align": "left", "baseline": "alphabetic", "color": "#000000"}, "encoding": {"text": {"field": "label"}}},
 {"data": {"values": [
{"t":-82,"pH":7.4824,"label":"pH"},{"t":95.5,"pH":7.905,"label":"pH"},{"t":27.5,"pH":7.1882,"label":"pH"},{"t":130,"pH":7.1281,"label":"pH"},{"t":203,"pH":7.7919,"label":"pH"},{"t":243.35,"pH":7.0602,"label":"pH"},
{"t":58.35,"pH":6.9018,"label":"t"},{"t":106.65,"pH":6.8869,"label":"T"},{"t":157.5,"pH":6.811,"label":"t"},{"t":215,"pH":6.8416,"label":"T"}
 ]}, "mark": {"type": "text", "fontSize": 28, "align": "left", "baseline": "alphabetic", "color": "#000000"}, "encoding": {"text": {"field": "label"}}},
 {"data": {"values": [
{"t":118.35,"pH":7.905,"label":"max"},{"t":51.65,"pH":7.1882,"label":"min"},{"t":155,"pH":7.1281,"label":"min"},{"t":226.65,"pH":7.7919,"label":"max"},{"t":269.15,"pH":7.0602,"label":"min"}
 ]}, "mark": {"type": "text", "fontSize": 28, "fontStyle": "italic", "align": "left", "baseline": "alphabetic", "color": "#000000"}, "encoding": {"text": {"field": "label"}}},
 {"data": {"values": [
{"t":-63.75,"pH":7.4525,"label":"i"},{"t":113.75,"pH":7.8747,"label":"i"},{"t":45.75,"pH":7.1584,"label":"i"},{"t":148.25,"pH":7.0905,"label":"i"},{"t":221.25,"pH":7.7615,"label":"i"},{"t":261.6,"pH":7.024,"label":"i"},
{"t":143.8,"pH":7.8747,"label":"1"},{"t":73.7,"pH":7.1584,"label":"1"},{"t":177.05,"pH":7.0905,"label":"2"},{"t":252.1,"pH":7.7538,"label":"2"},{"t":291.2,"pH":7.0226,"label":"3"},
{"t":62.25,"pH":6.8715,"label":"1"},{"t":115.2,"pH":6.8837,"label":"1"},{"t":161.4,"pH":6.793,"label":"2"},{"t":223.55,"pH":6.8036,"label":"2"}
 ]}, "mark": {"type": "text", "fontSize": 18.5, "align": "left", "baseline": "alphabetic", "color": "#000000"}, "encoding": {"text": {"field": "label"}}},
 {"data": {"values": [
{"t":13.35,"pH":7.6561,"label":"dpH"},{"t":41.75,"pH":7.6561,"label":"/dt"},{"t":112.5,"pH":7.5579,"label":"dpH"},{"t":141,"pH":7.5579,"label":"/dt"}
 ]}, "mark": {"type": "text", "fontSize": 28, "align": "left", "baseline": "alphabetic", "color": "#8a8a8a"}, "encoding": {"text": {"field": "label"}}},
 {"data": {"values": [
{"t":39.25,"pH":7.6258,"label":"i"},{"t":62,"pH":7.6258,"label":"1"},{"t":138.5,"pH":7.5276,"label":"i"},{"t":161.25,"pH":7.5276,"label":"2"}
 ]}, "mark": {"type": "text", "fontSize": 18.5, "align": "left", "baseline": "alphabetic", "color": "#8a8a8a"}, "encoding": {"text": {"field": "label"}}}
]
}
]
}
